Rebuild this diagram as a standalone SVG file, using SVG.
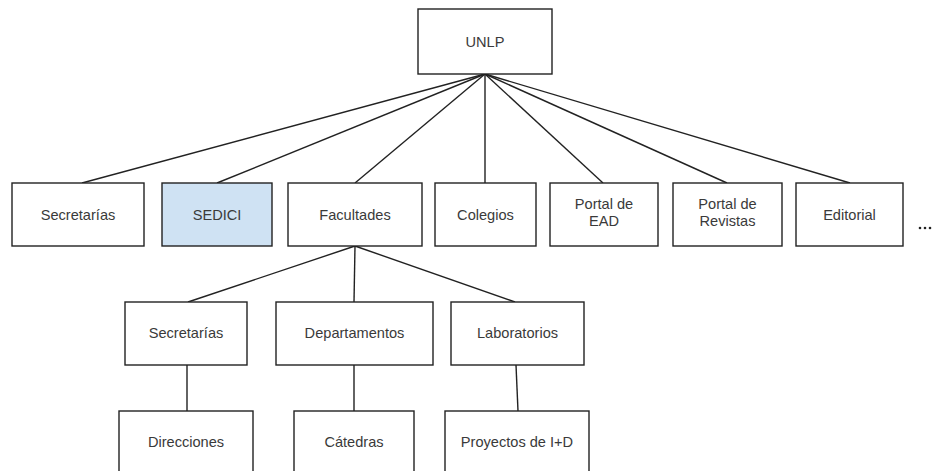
<svg xmlns="http://www.w3.org/2000/svg" width="934" height="471" viewBox="0 0 934 471">
<style>
.box{fill:#fff;stroke:#222;stroke-width:1.4}
.hl{fill:#cfe2f3}
.lbl{font-family:"Liberation Sans",Arial,sans-serif;font-size:14.6px;fill:#3a3a3a;text-anchor:middle}
.con line{stroke:#222;stroke-width:1.4}
</style>
<rect width="934" height="471" fill="#fff"/>
<g class="con" id="connectors">
<line x1="485" y1="74" x2="82" y2="183"/>
<line x1="485" y1="74" x2="217" y2="183"/>
<line x1="485" y1="74" x2="355" y2="183"/>
<line x1="485" y1="74" x2="485" y2="183"/>
<line x1="485" y1="74" x2="603" y2="183"/>
<line x1="485" y1="74" x2="727" y2="183"/>
<line x1="485" y1="74" x2="850" y2="183"/>
<line x1="355" y1="246" x2="188" y2="302"/>
<line x1="355" y1="246" x2="354" y2="302"/>
<line x1="355" y1="246" x2="515" y2="302"/>
<line x1="187" y1="365" x2="187" y2="411"/>
<line x1="354" y1="365" x2="354" y2="411"/>
<line x1="516" y1="365" x2="518" y2="411"/>
</g>
<g id="unlp"><rect class="box" x="418" y="9" width="134" height="65"/><text class="lbl" x="485" y="47">UNLP</text></g>
<g id="secretarias1"><rect class="box" x="12" y="183" width="132" height="63"/><text class="lbl" x="78" y="220">Secretarías</text></g>
<g id="sedici"><rect class="box hl" x="162" y="183" width="110" height="63"/><text class="lbl" x="217" y="220">SEDICI</text></g>
<g id="facultades"><rect class="box" x="288" y="183" width="134" height="63"/><text class="lbl" x="355" y="220">Facultades</text></g>
<g id="colegios"><rect class="box" x="435" y="183" width="101" height="63"/><text class="lbl" x="485.5" y="220">Colegios</text></g>
<g id="portal-ead"><rect class="box" x="550" y="183" width="108" height="63"/><text class="lbl" x="604" y="209">Portal de</text><text class="lbl" x="604" y="226">EAD</text></g>
<g id="portal-revistas"><rect class="box" x="673" y="183" width="109" height="63"/><text class="lbl" x="727.5" y="209">Portal de</text><text class="lbl" x="727.5" y="226">Revistas</text></g>
<g id="editorial"><rect class="box" x="796" y="183" width="107" height="63"/><text class="lbl" x="849.5" y="220">Editorial</text></g>
<g id="more"><circle cx="920" cy="228" r="1.3" fill="#222"/><circle cx="925" cy="228" r="1.3" fill="#222"/><circle cx="930" cy="228" r="1.3" fill="#222"/></g>
<g id="secretarias2"><rect class="box" x="125" y="302" width="122" height="63"/><text class="lbl" x="186" y="338">Secretarías</text></g>
<g id="departamentos"><rect class="box" x="276" y="302" width="157" height="63"/><text class="lbl" x="354.5" y="338">Departamentos</text></g>
<g id="laboratorios"><rect class="box" x="451" y="302" width="133" height="63"/><text class="lbl" x="517.5" y="338">Laboratorios</text></g>
<g id="direcciones"><rect class="box" x="119" y="411" width="134" height="64"/><text class="lbl" x="186" y="447">Direcciones</text></g>
<g id="catedras"><rect class="box" x="294" y="411" width="120" height="64"/><text class="lbl" x="354" y="447">Cátedras</text></g>
<g id="proyectos"><rect class="box" x="445" y="411" width="144" height="64"/><text class="lbl" x="517" y="447">Proyectos de I+D</text></g>
</svg>
